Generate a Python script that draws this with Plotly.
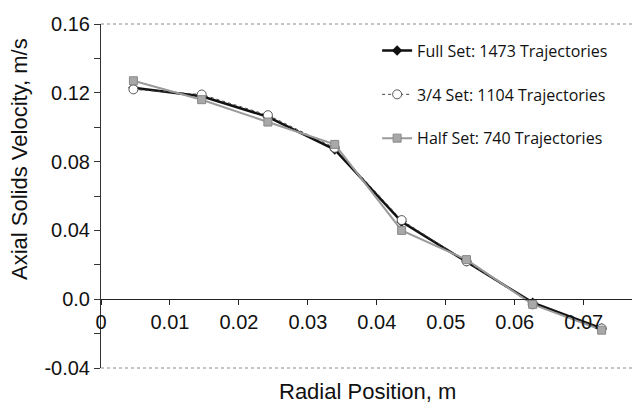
import plotly.graph_objects as go

radial = [0.0047, 0.0146, 0.0242, 0.0339, 0.0436, 0.0530, 0.0626, 0.0726]
full_set = [0.123, 0.118, 0.106, 0.087, 0.045, 0.022, -0.002, -0.017]
three_quarter_set = [0.122, 0.119, 0.107, 0.088, 0.046, 0.022, -0.003, -0.017]
half_set = [0.127, 0.116, 0.103, 0.090, 0.040, 0.023, -0.003, -0.018]

names = ["Full Set: 1473 Trajectories", "3/4 Set: 1104 Trajectories", "Half Set: 740 Trajectories"]

x_tickvals = [0, 0.01, 0.02, 0.03, 0.04, 0.05, 0.06, 0.07]
x_ticktext = ["0", "0.01", "0.02", "0.03", "0.04", "0.05", "0.06", "0.07"]
y_tickvals = [-0.04, 0.0, 0.04, 0.08, 0.12, 0.16]
y_ticktext = ["-0.04", "0.0", "0.04", "0.08", "0.12", "0.16"]

fig = go.Figure()
fig.add_trace(go.Scatter(
    x=radial, y=full_set, name=names[0], mode="lines+markers", legendgroup="a",
    line=dict(color="#111111", width=2.5),
    marker=dict(symbol="diamond", size=8, color="#111111")))
fig.add_trace(go.Scatter(
    x=radial, y=three_quarter_set, name=names[1], mode="lines+markers", legendgroup="b",
    line=dict(color="#444444", width=1, dash="dot"),
    marker=dict(symbol="circle", size=9, color="white", line=dict(color="#555555", width=1))))
fig.add_trace(go.Scatter(
    x=radial, y=half_set, name=names[2], mode="lines+markers", legendgroup="c",
    line=dict(color="#9a9a9a", width=2),
    marker=dict(symbol="square", size=8, color="#a8a8a8", line=dict(color="#888888", width=1))))

fig.update_layout(
    width=632, height=409,
    margin=dict(l=101, r=0, t=24, b=41),
    paper_bgcolor="white", plot_bgcolor="white",
    font=dict(family="Liberation Sans, Arial, sans-serif", color="#111111"),
    showlegend=True,
    legend=dict(x=0.52, y=0.972, xanchor="left", yanchor="top",
                font=dict(family="Open Sans, sans-serif", size=16, color="#111111"),
                tracegroupgap=20, bgcolor="rgba(0,0,0,0)", borderwidth=0),
    xaxis=dict(range=[0, 0.077], tickvals=x_tickvals, ticktext=x_ticktext,
               anchor="free", position=0.2, showline=True, linecolor="#222222", linewidth=1,
               ticks="outside", ticklen=5, tickcolor="#222222", showgrid=False, zeroline=False,
               tickfont=dict(size=20, family="Liberation Sans, Arial, sans-serif")),
    yaxis=dict(range=[-0.04, 0.16], tickvals=y_tickvals, ticktext=y_ticktext,
               showline=True, linecolor="#333333", linewidth=1,
               ticks="outside", ticklen=6, tickcolor="#333333", showgrid=False, zeroline=False,
               minor=dict(tickvals=[-0.02, 0.02, 0.06, 0.10, 0.14], ticks="outside", ticklen=6, tickcolor="#333333"),
               tickfont=dict(size=20, family="Liberation Sans, Arial, sans-serif")),
    shapes=[
        dict(type="line", xref="paper", yref="paper", x0=0, x1=1, y0=1, y1=1,
             line=dict(color="#888888", width=1, dash="dot")),
        dict(type="line", xref="paper", yref="paper", x0=0, x1=1, y0=0, y1=0,
             line=dict(color="#888888", width=1, dash="dot")),
    ],
    annotations=[
        dict(text="Axial Solids Velocity, m/s", xref="paper", yref="paper",
             x=-0.1525, y=0.6076, xanchor="center", yanchor="middle", textangle=-90,
             showarrow=False, font=dict(size=22, family="Liberation Sans, Arial, sans-serif")),
        dict(text="Radial Position, m", xref="paper", yref="paper",
             x=0.501, y=-0.067, xanchor="center", yanchor="middle",
             showarrow=False, font=dict(size=22, family="Liberation Sans, Arial, sans-serif")),
    ],
)

fig.write_html("out.html")
